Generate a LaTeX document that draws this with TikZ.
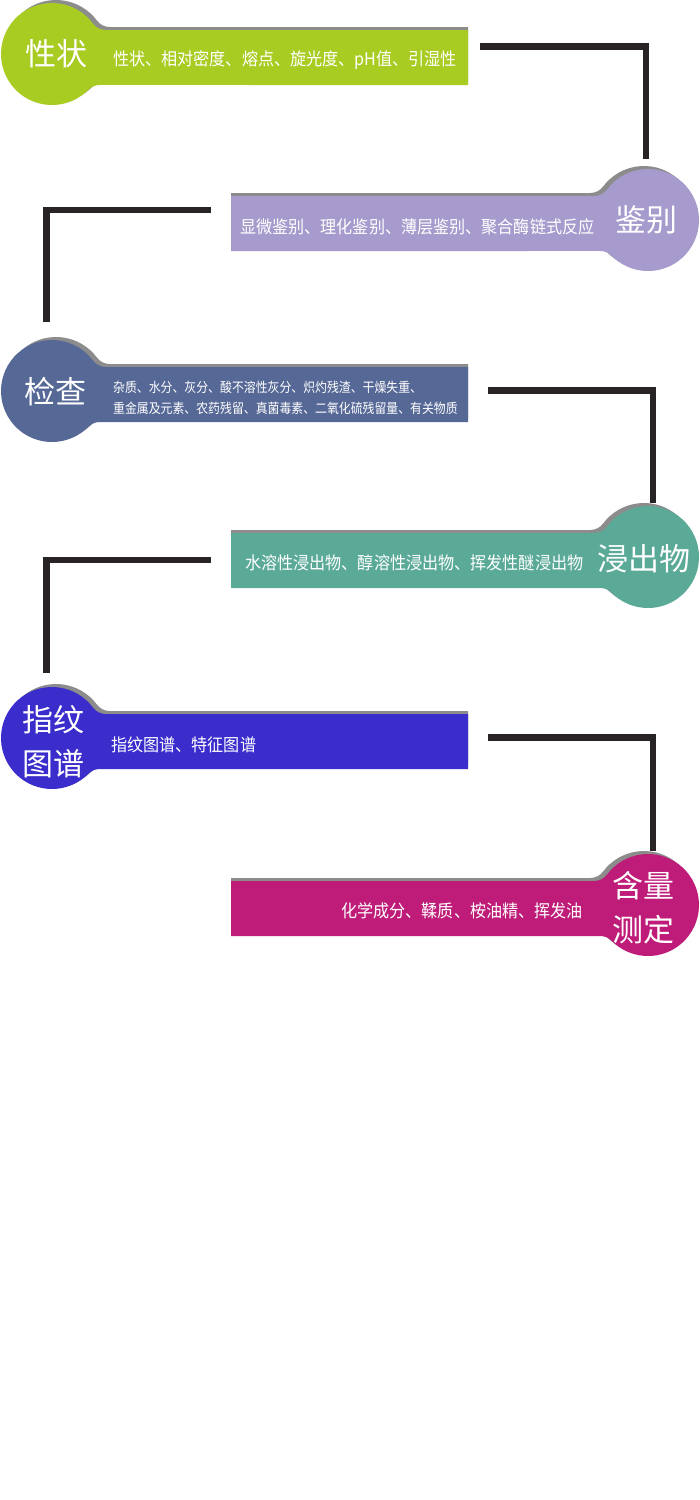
\documentclass[tikz,border=0pt]{standalone}
\usepackage{fontspec}
\setmainfont{Noto Sans CJK SC}
\newfontfamily\condfont[FakeStretch=0.92]{Noto Sans CJK SC}
\newfontfamily\condsmall[FakeStretch=0.88]{Noto Sans CJK SC}
\definecolor{cGreen}{HTML}{A9CC23}
\definecolor{cLav}{HTML}{A69BCC}
\definecolor{cSlate}{HTML}{566896}
\definecolor{cTeal}{HTML}{5BAA98}
\definecolor{cViolet}{HTML}{3A2DCC}
\definecolor{cMag}{HTML}{BE1C78}
\definecolor{cShadow}{HTML}{8C8C8C}
\definecolor{cConn}{HTML}{282324}
\tikzset{
  conn/.style={line width=6.5pt, draw=cConn, line join=miter},
  biglabel/.style={text=white, font=\fontsize{31}{44}\selectfont, align=center, inner sep=0pt},
  desc/.style={text=white, font=\condfont\fontsize{17.5}{20}\selectfont, inner sep=0pt},
  descsmall/.style={text=white, font=\condsmall\fontsize{13.5}{21}\selectfont, align=left, inner sep=0pt}
}
% #1 colour, #2 bar length (local, from circle centre)
\newcommand{\tagshape}[2]{%
  \fill[cShadow, shift={(4,3)}] (#2-4,24) -- (53.75,24)
    arc[start angle=270, end angle=216.66, radius=16]
    arc[start angle=36.66, end angle=315.46, radius=51]
    arc[start angle=135.46, end angle=90, radius=16]
    -- (#2-4,-31) -- cycle;
  \fill[#1] (#2,24) -- (53.75,24)
    arc[start angle=270, end angle=216.66, radius=16]
    arc[start angle=36.66, end angle=315.46, radius=51]
    arc[start angle=135.46, end angle=90, radius=16]
    -- (#2,-31) -- cycle;
}
\begin{document}
\begin{tikzpicture}[x=1pt, y=1pt]
\useasboundingbox[fill=white] (0,0) rectangle (700,-1500);

% shapes
\begin{scope}[shift={(52,-54)}]\tagshape{cGreen}{416}\end{scope}
\begin{scope}[shift={(648,-220)}, xscale=-1]\tagshape{cLav}{417}\end{scope}
\begin{scope}[shift={(52,-391)}]\tagshape{cSlate}{416}\end{scope}
\begin{scope}[shift={(648,-557)}, xscale=-1]\tagshape{cTeal}{417}\end{scope}
\begin{scope}[shift={(52,-738)}]\tagshape{cViolet}{416}\end{scope}
\begin{scope}[shift={(648,-905)}, xscale=-1]\tagshape{cMag}{417}\end{scope}

% labels
\node[biglabel] (t1) at (56,-54) {性状};
\node[desc, anchor=west] (d1) at (113,-60) {性状、相对密度、熔点、旋光度、pH值、引湿性};

\node[biglabel] (t2) at (646,-220) {鉴别};
\node[desc, anchor=west] (d2) at (240,-227) {显微鉴别、理化鉴别、薄层鉴别、聚合酶链式反应};

\node[biglabel] (t3) at (55,-392) {检查};
\node[descsmall, anchor=west] (d3) at (113,-398) {杂质、水分、灰分、酸不溶性灰分、炽灼残渣、干燥失重、\\重金属及元素、农药残留、真菌毒素、二氧化硫残留量、有关物质};

\node[biglabel] (t4) at (644,-559) {浸出物};
\node[desc, anchor=west] (d4) at (245,-563) {水溶性浸出物、醇溶性浸出物、挥发性醚浸出物};

\node[biglabel] (t5) at (54,-742) {指纹\\图谱};
\node[desc, anchor=west] (d5) at (111,-745) {指纹图谱、特征图谱};

\node[biglabel] (t6) at (643,-908) {含量\\测定};
\node[desc, anchor=east] (d6) at (583,-911) {化学成分、鞣质、桉油精、挥发油};

% connectors
\coordinate (c1a) at (480,-46.5);
\coordinate (c1b) at (646,-159);
\coordinate (c2a) at (211,-210);
\coordinate (c2b) at (46.5,-322);
\coordinate (c3a) at (488,-390.5);
\coordinate (c3b) at (653,-503);
\coordinate (c4a) at (211,-560);
\coordinate (c4b) at (46.5,-673);
\coordinate (c5a) at (488,-737.5);
\coordinate (c5b) at (653,-851);
\draw[conn] (c1a) -| (c1b);
\draw[conn] (c2a) -| (c2b);
\draw[conn] (c3a) -| (c3b);
\draw[conn] (c4a) -| (c4b);
\draw[conn] (c5a) -| (c5b);
\end{tikzpicture}
\end{document}
